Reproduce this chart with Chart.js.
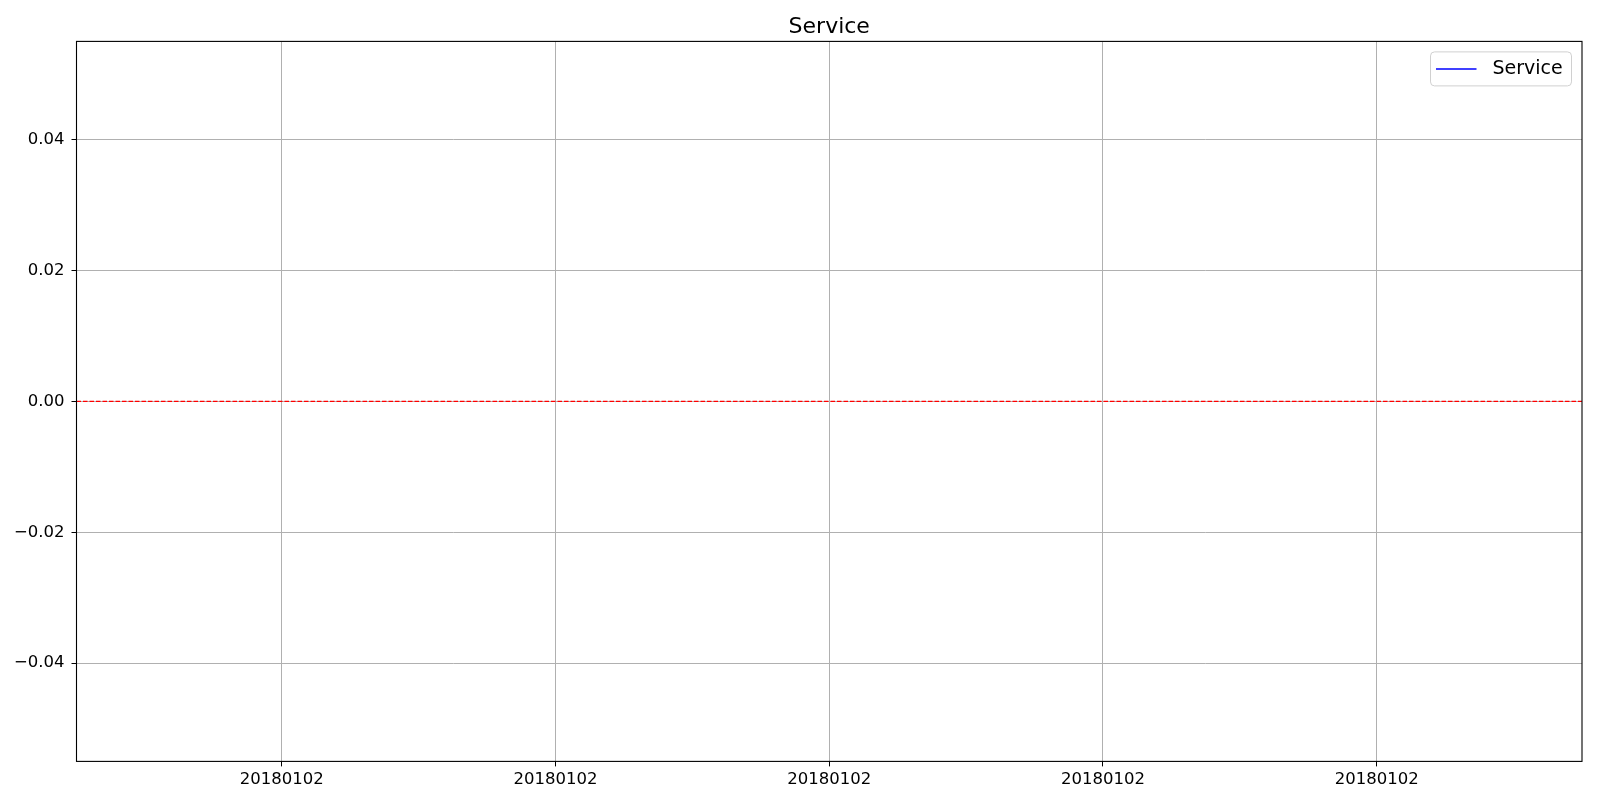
<!DOCTYPE html>
<html>
<head>
<meta charset="utf-8">
<script src="https://cdn.jsdelivr.net/npm/chart.js@4.4.0/dist/chart.umd.min.js"></script>
<style>
  html, body { margin: 0; padding: 0; background: #fff; }
  #wrap { width: 1600px; height: 800px; }
</style>
</head>
<body>
<div id="wrap"><canvas id="c" width="1600" height="800"></canvas></div>
<script>
// ---- data ----
const chartTitle = "Service";
const seriesLabel = "Service";
const dates = ["20180102"];
const serviceValues = [0];
const refLineValue = 0;
const xTickValues = [-0.04, -0.02, 0, 0.02, 0.04];
const xTickLabels = ["20180102", "20180102", "20180102", "20180102", "20180102"];
const yTickValues = [-0.04, -0.02, 0, 0.02, 0.04];
const xLimits = [-0.055, 0.055];
const yLimits = [-0.055, 0.055];

const FONT = "'DejaVu Sans', sans-serif";

const points = dates.map((d, i) => ({ x: i, y: serviceValues[i] }));

const framePlugin = {
  id: 'frame',
  beforeDatasetsDraw(chart) {
    const { ctx, chartArea: a, scales } = chart;
    const y0 = scales.y.getPixelForValue(refLineValue);
    ctx.save();
    ctx.strokeStyle = 'rgb(255,0,0)';
    ctx.lineWidth = 1.4;
    ctx.setLineDash([4.5, 2]);
    ctx.beginPath();
    ctx.moveTo(a.left, y0);
    ctx.lineTo(a.right, y0);
    ctx.stroke();
    ctx.restore();
  },
  afterDraw(chart) {
    const { ctx, chartArea: a } = chart;
    ctx.save();
    ctx.strokeStyle = '#000';
    ctx.lineWidth = 1.1;
    ctx.strokeRect(a.left, a.top, a.right - a.left, a.bottom - a.top);
    // legend
    const ds = chart.data.datasets[0];
    ctx.font = "19px " + FONT;
    const bw = 141, bh = 34;
    const bx = a.right - 10.5 - bw, by = a.top + 10.5;
    ctx.beginPath();
    if (ctx.roundRect) ctx.roundRect(bx, by, bw, bh, 4); else ctx.rect(bx, by, bw, bh);
    ctx.fillStyle = 'rgba(255,255,255,0.8)';
    ctx.fill();
    ctx.strokeStyle = '#d0d0d0';
    ctx.lineWidth = 1;
    ctx.stroke();
    const ly = by + bh / 2;
    ctx.strokeStyle = ds.borderColor;
    ctx.lineWidth = 1.5;
    ctx.beginPath();
    ctx.moveTo(bx + 5.5, ly);
    ctx.lineTo(bx + 46, ly);
    ctx.stroke();
    ctx.fillStyle = '#000';
    ctx.textBaseline = 'middle';
    ctx.textAlign = 'left';
    ctx.fillText(ds.label, bx + 62, ly + 0.5);
    ctx.restore();
  }
};

new Chart(document.getElementById('c'), {
  type: 'line',
  data: {
    datasets: [{
      label: seriesLabel,
      data: points,
      borderColor: 'rgb(0,0,255)',
      backgroundColor: 'rgb(0,0,255)',
      borderWidth: 1.5,
      pointRadius: 0,
      fill: false
    }]
  },
  options: {
    responsive: false,
    animation: false,
    devicePixelRatio: 1,
    layout: { padding: { top: 0, right: 18, bottom: 0, left: 0 } },
    plugins: {
      legend: { display: false },
      tooltip: { enabled: false },
      title: {
        display: true,
        text: chartTitle,
        fullSize: false,
        color: '#000',
        font: { family: FONT, size: 22, weight: 'normal' },
        padding: { top: 14, bottom: 1 }
      }
    },
    scales: {
      x: {
        type: 'linear',
        min: xLimits[0],
        max: xLimits[1],
        afterBuildTicks(s) { s.ticks = xTickValues.map(v => ({ value: v })); },
        afterFit(s) { s.height = 38.6; },
        grid: { color: '#b0b0b0', lineWidth: 1, tickColor: '#000', tickLength: 5, drawOnChartArea: true },
        border: { display: false },
        ticks: {
          autoSkip: false,
          maxRotation: 0,
          color: '#000',
          padding: 3,
          font: { family: FONT, size: 16.5 },
          callback(v, i) { return xTickLabels[i]; }
        }
      },
      y: {
        type: 'linear',
        min: yLimits[0],
        max: yLimits[1],
        afterBuildTicks(s) { s.ticks = yTickValues.map(v => ({ value: v })); },
        afterFit(s) { s.width = 76.5; },
        grid: { color: '#b0b0b0', lineWidth: 1, tickColor: '#000', tickLength: 5 },
        border: { display: false },
        ticks: {
          autoSkip: false,
          color: '#000',
          padding: 7,
          font: { family: FONT, size: 16.5 },
          callback(v) { return v.toFixed(2).replace('-', '\u2212'); }
        }
      }
    }
  },
  plugins: [framePlugin]
});
</script>
</body>
</html>
